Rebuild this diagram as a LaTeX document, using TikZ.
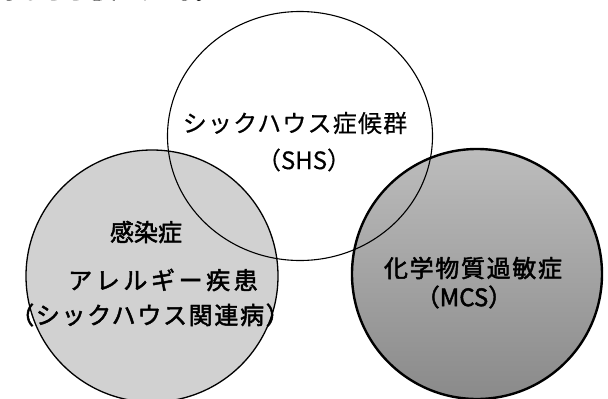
\documentclass[tikz,border=0pt]{standalone}
\usepackage{fontspec}
\usetikzlibrary{shapes.geometric}
\newfontfamily\jp[FakeBold=0.5]{Noto Sans CJK JP}
\newfontfamily\jpb[FakeBold=2]{Noto Sans CJK JP}
\tikzset{
  ring/.style={circle, inner sep=0pt, draw=black},
  lbl/.style={inner sep=0pt, anchor=center},
}
\begin{document}
\begin{tikzpicture}[x=1pt,y=-1pt]
\useasboundingbox (0,0) rectangle (608,399);
% header line, cut off at the top
\node[inner sep=0pt, anchor=base west, font=\jp\fontsize{22}{22}\selectfont] (hdr) at (-3,-0.5) {ることとされている。};
% shaded circles
\node[ring, minimum size=252pt, fill=black!18, line width=1.3pt] (allergy) at (152,276) {};
\node[ring, minimum size=250pt, top color=black!26, bottom color=black!46, line width=2.4pt] (mcs) at (477,274) {};
% SHS ellipse (outline only, drawn over the shading)
\node[ellipse, inner sep=0pt, draw=black, line width=1.1pt, minimum width=265pt, minimum height=249pt] (shs) at (300,136) {};
% labels
\node[lbl, font=\jp\fontsize{24}{24}\selectfont\addfontfeature{LetterSpace=5}] (shs1) at (295,123) {シックハウス症候群};
\node[lbl, font=\jp\fontsize{24}{24}\selectfont] (shs2) at (304,160) {（SHS）};
\node[lbl, font=\jpb\fontsize{24}{24}\selectfont] (inf) at (146,232) {感染症};
\node[lbl, font=\jpb\fontsize{24}{24}\selectfont\addfontfeature{LetterSpace=15}] (all1) at (163,280) {アレルギー疾患};
\node[lbl, font=\jpb\fontsize{24}{24}\selectfont\addfontfeature{LetterSpace=7}] (all2) at (150,315) {（シックハウス関連病）};
\node[lbl, font=\jpb\fontsize{24}{24}\selectfont\addfontfeature{LetterSpace=7}] (mcs1) at (473,268) {化学物質過敏症};
\node[lbl, font=\jpb\fontsize{24}{24}\selectfont] (mcs2) at (464,297) {（MCS）};
\end{tikzpicture}
\end{document}
